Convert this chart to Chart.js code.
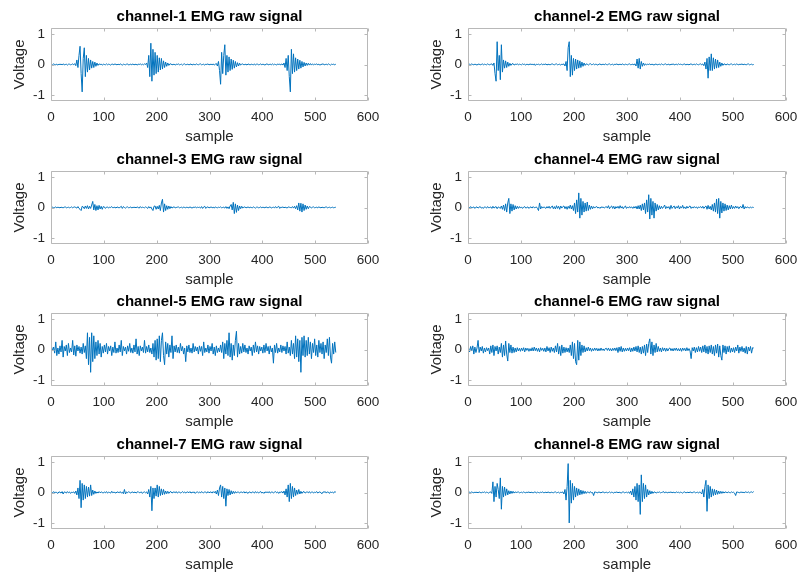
<!DOCTYPE html>
<html>
<head>
<meta charset="utf-8">
<script src="https://cdn.jsdelivr.net/npm/chart.js@4.4.1/dist/chart.umd.min.js"></script>
<style>
  html, body { margin: 0; padding: 0; background: #fff; overflow: hidden; }
  #fig { position: relative; width: 798px; height: 573px; }
  canvas { position: absolute; }
</style>
</head>
<body>
<div id="fig"></div>
<script>
// sample index of every stored value (every second sample, 1..539)
const samples = Array.from({length: 270}, (_, i) => 1 + i * 2);
const xTicks = [0, 100, 200, 300, 400, 500, 600];
const yTicks = [-1, 0, 1];
const titles = ['channel-1 EMG raw signal', 'channel-2 EMG raw signal', 'channel-3 EMG raw signal',
  'channel-4 EMG raw signal', 'channel-5 EMG raw signal', 'channel-6 EMG raw signal',
  'channel-7 EMG raw signal', 'channel-8 EMG raw signal'];

const ch1 = [
  0.01,-0.01,0.02,0.00,-0.01,0.01,-0.02,0.01,0.00,0.01,
  -0.01,0.02,-0.01,0.00,0.01,-0.02,0.01,0.01,-0.01,0.00,
  0.02,-0.01,0.03,-0.04,0.15,-0.10,0.30,0.60,-0.30,-0.90,
  0.20,0.55,-0.40,0.30,-0.25,0.20,-0.18,0.15,-0.12,0.10,
  -0.10,0.08,-0.06,0.05,-0.03,0.02,0.00,0.01,-0.02,0.01,
  0.00,-0.01,0.02,-0.01,0.01,0.00,-0.02,0.01,0.01,-0.01,
  0.02,0.00,-0.01,0.01,-0.01,0.02,0.00,-0.02,0.01,0.00,
  -0.01,0.01,0.02,-0.02,0.00,0.01,-0.01,0.02,-0.01,0.00,
  0.01,-0.02,0.01,0.00,0.02,-0.01,0.01,-0.01,0.02,0.00,
  0.05,-0.10,0.30,-0.40,0.70,-0.55,0.50,-0.35,0.40,-0.30,
  0.30,-0.25,0.22,-0.18,0.20,-0.15,0.12,-0.10,0.08,-0.06,
  0.05,-0.03,0.02,0.02,-0.01,0.00,0.01,-0.02,0.01,0.00,
  0.02,-0.01,0.00,0.01,-0.02,0.01,0.02,-0.01,0.00,0.01,
  -0.01,0.00,0.02,-0.02,0.01,0.00,-0.01,0.02,0.00,-0.01,
  0.01,0.02,-0.01,0.00,0.01,-0.02,0.01,0.00,0.02,-0.01,
  0.00,0.01,-0.01,0.02,-0.02,0.01,0.03,-0.05,0.10,-0.20,
  -0.65,0.40,-0.30,0.30,0.65,-0.35,0.30,-0.25,0.25,-0.20,
  0.18,-0.16,0.14,-0.12,0.10,-0.08,0.06,-0.05,0.04,-0.02,
  0.01,0.02,-0.01,0.00,0.01,-0.02,0.02,0.00,-0.01,0.01,
  0.00,-0.01,0.02,-0.02,0.01,0.01,-0.01,0.00,0.02,-0.01,
  0.01,0.00,-0.02,0.01,0.02,-0.01,0.00,0.01,-0.01,0.02,
  -0.01,0.01,0.00,-0.02,0.02,0.00,0.01,-0.01,0.02,-0.02,
  0.05,-0.10,0.20,-0.20,0.30,-0.40,-0.90,0.50,-0.30,0.35,
  -0.25,0.22,-0.20,0.18,-0.15,0.14,-0.12,0.10,-0.08,0.07,
  -0.05,0.05,-0.03,0.04,-0.02,0.03,-0.02,0.02,-0.01,0.01,
  0.00,0.02,-0.01,0.01,-0.02,0.00,0.01,0.02,-0.01,0.00,
  0.01,-0.01,0.02,0.00,-0.02,0.01,0.00,0.01,-0.01,0.01
];

const ch2 = [
  0.00,0.01,-0.01,0.02,0.00,-0.01,0.01,0.00,-0.02,0.01,
  0.01,-0.01,0.00,0.02,-0.01,0.01,0.00,-0.01,0.02,0.00,
  -0.01,0.01,0.02,-0.03,0.05,-0.30,-0.55,0.75,-0.20,0.30,
  -0.50,0.65,-0.25,0.15,-0.12,0.12,-0.10,0.08,-0.06,0.04,
  -0.03,0.02,0.03,-0.02,0.01,0.00,0.02,-0.01,0.01,0.00,
  -0.01,0.02,0.00,0.01,-0.02,0.01,0.00,-0.01,0.02,0.00,
  0.01,-0.01,0.02,-0.03,0.01,0.00,0.01,-0.01,0.00,0.02,
  -0.01,0.01,0.00,0.02,-0.02,0.01,0.00,-0.01,0.01,0.02,
  0.00,-0.01,0.01,0.02,-0.01,0.00,0.01,-0.02,0.01,0.00,
  0.02,-0.05,0.10,-0.20,0.55,0.75,-0.40,0.30,-0.35,0.20,
  -0.20,0.18,-0.15,0.15,-0.12,0.12,-0.10,0.08,-0.06,0.05,
  -0.03,0.02,0.01,-0.02,0.01,0.03,-0.01,0.00,0.02,-0.01,
  0.01,0.00,-0.02,0.01,0.02,-0.01,0.00,0.01,-0.01,0.02,
  0.00,-0.01,0.01,0.02,-0.01,0.00,0.01,-0.02,0.01,0.00,
  0.02,-0.01,0.00,0.01,-0.01,0.02,0.00,-0.01,0.01,0.00,
  -0.01,0.01,0.02,-0.01,0.00,0.01,-0.01,0.02,-0.05,0.18,
  -0.12,0.20,-0.15,0.10,-0.06,0.05,-0.03,0.02,-0.01,0.01,
  0.00,0.02,-0.01,0.01,0.00,-0.02,0.01,0.01,-0.01,0.00,
  0.01,-0.01,0.02,0.00,-0.01,0.01,0.02,-0.01,0.00,0.01,
  -0.02,0.01,0.00,0.02,-0.01,0.00,0.01,-0.01,0.02,0.00,
  0.01,0.00,-0.01,0.01,0.02,-0.02,0.01,0.00,-0.01,0.01,
  0.02,-0.01,0.00,0.01,-0.01,0.02,0.00,-0.01,0.01,0.02,
  -0.01,0.02,-0.04,0.08,-0.15,0.20,-0.45,0.25,-0.20,0.35,
  -0.20,0.22,-0.15,0.18,-0.12,0.15,-0.10,0.08,-0.06,0.05,
  -0.03,0.02,0.01,-0.02,0.02,0.00,-0.01,0.01,0.02,-0.01,
  0.00,0.01,-0.01,0.02,0.00,-0.01,0.01,0.00,0.02,-0.01,
  0.01,0.00,-0.01,0.01,0.02,-0.01,0.00,0.01,-0.01,0.00
];

const ch3 = [
  0.00,0.01,-0.01,0.00,0.02,-0.01,0.01,0.00,-0.01,0.01,
  0.00,-0.01,0.01,0.02,-0.01,0.00,0.01,-0.01,0.00,0.02,
  -0.01,0.01,0.02,0.00,-0.02,0.03,-0.03,-0.06,-0.10,0.04,
  0.02,-0.04,0.05,-0.03,0.06,-0.05,0.04,-0.03,0.08,0.20,
  -0.08,0.10,-0.10,0.06,-0.08,0.07,-0.05,0.04,-0.06,0.03,
  0.02,-0.03,0.01,0.02,-0.02,0.01,0.00,0.03,-0.01,0.00,
  0.01,-0.02,0.02,0.00,-0.01,0.01,0.04,-0.03,0.03,0.00,
  -0.02,0.01,0.02,-0.01,0.00,0.02,-0.02,0.01,0.00,0.01,
  -0.01,0.02,0.00,-0.02,0.03,-0.01,0.01,0.00,-0.01,0.02,
  0.00,-0.03,0.03,-0.02,0.02,-0.05,-0.10,0.04,0.05,-0.06,
  0.04,-0.05,0.07,-0.10,0.15,0.27,-0.15,0.12,-0.10,0.06,
  -0.06,0.05,-0.04,0.03,-0.02,0.01,0.02,-0.01,0.00,0.01,
  0.02,-0.01,0.00,0.01,-0.02,0.02,0.00,-0.01,0.01,0.00,
  -0.01,0.02,0.00,-0.02,0.01,0.00,0.02,-0.01,0.01,0.00,
  0.01,-0.02,0.03,-0.03,0.02,0.04,-0.03,0.01,0.02,-0.01,
  0.00,0.02,-0.01,0.01,-0.02,0.02,0.00,-0.01,0.01,0.00,
  0.02,-0.01,0.00,0.01,-0.02,0.03,-0.03,0.02,-0.04,0.05,
  0.10,-0.08,0.17,-0.20,0.12,-0.16,0.08,-0.10,0.05,-0.04,
  0.04,-0.02,0.01,0.02,-0.01,0.00,0.02,-0.01,0.01,0.00,
  -0.01,0.02,0.00,-0.02,0.01,0.01,-0.01,0.00,0.02,-0.01,
  0.01,0.00,-0.01,0.02,0.00,-0.01,0.01,0.02,-0.02,0.00,
  0.01,-0.01,0.03,-0.02,0.02,0.04,-0.03,0.01,0.00,0.02,
  -0.01,0.01,0.00,-0.02,0.02,0.01,0.00,-0.01,0.03,-0.02,
  0.04,-0.04,0.06,-0.08,0.15,-0.12,0.14,-0.15,0.12,-0.10,
  0.08,-0.06,0.05,-0.04,0.03,0.02,-0.02,0.01,0.02,-0.01,
  0.00,0.01,-0.01,0.02,0.00,-0.01,0.01,0.00,-0.01,0.01,
  0.02,-0.01,0.00,0.01,-0.01,0.00,0.01,-0.01,0.00,0.01
];

const ch4 = [
  0.02,-0.02,0.03,-0.01,0.00,0.02,-0.03,0.01,0.02,-0.02,
  0.01,0.03,-0.02,0.00,-0.03,0.02,0.01,-0.02,0.03,-0.01,
  0.00,0.02,-0.03,0.04,-0.02,0.01,0.03,-0.04,0.02,0.00,
  -0.03,0.05,-0.06,0.08,-0.10,0.12,-0.15,0.15,0.30,-0.20,
  0.12,-0.12,0.10,-0.08,0.06,-0.05,0.04,-0.03,0.03,-0.02,
  0.02,-0.03,0.01,0.03,-0.02,0.00,0.02,-0.03,0.01,0.02,
  -0.02,0.03,-0.01,0.00,0.02,-0.03,-0.10,0.15,-0.05,0.03,
  -0.02,0.02,0.00,-0.03,0.03,-0.02,0.04,-0.03,0.02,0.05,
  -0.04,0.03,-0.05,0.06,-0.03,0.04,-0.06,0.05,-0.02,0.03,
  0.05,-0.04,0.03,-0.06,0.04,-0.03,0.08,-0.05,0.06,-0.10,
  0.15,-0.20,0.25,-0.15,0.48,-0.35,0.30,-0.25,0.20,-0.15,
  0.15,-0.12,0.18,-0.10,0.08,-0.06,0.05,-0.04,0.03,-0.02,
  0.02,0.03,-0.02,0.01,-0.03,0.02,0.00,0.02,-0.02,0.01,
  0.03,-0.02,0.06,-0.04,0.02,0.05,-0.03,0.04,-0.05,0.03,
  -0.02,0.04,-0.03,0.06,-0.02,0.03,-0.04,0.02,0.05,-0.03,
  0.02,-0.02,0.03,-0.01,0.02,-0.03,0.03,-0.02,0.04,-0.05,
  0.06,-0.05,0.08,-0.10,0.12,-0.08,0.15,-0.20,0.25,-0.15,
  0.42,-0.38,0.30,-0.25,0.20,-0.35,0.15,-0.12,0.10,-0.08,
  0.06,-0.05,0.04,-0.03,0.02,0.08,-0.04,0.03,-0.02,0.03,
  -0.06,0.07,-0.03,0.02,0.05,-0.04,0.03,-0.02,0.06,-0.05,
  0.03,-0.02,0.07,-0.03,0.02,-0.04,0.04,-0.02,0.03,0.05,
  -0.03,0.02,-0.02,0.03,-0.01,0.02,-0.03,0.02,0.00,0.03,
  -0.02,0.04,-0.03,0.02,0.05,-0.06,0.07,-0.05,0.04,-0.08,
  0.10,-0.12,0.15,-0.15,0.28,-0.20,0.30,-0.35,0.20,-0.18,
  0.15,-0.12,0.12,-0.10,0.08,-0.08,0.06,-0.05,0.08,-0.04,
  0.03,-0.03,0.05,-0.02,0.03,-0.04,0.02,0.03,-0.02,0.10,
  -0.05,0.03,-0.02,0.02,0.00,-0.02,0.02,-0.01,0.01,0.00
];

const ch5 = [
  0.10,-0.05,0.08,-0.12,0.25,-0.20,0.05,-0.15,0.12,-0.08,
  0.30,-0.25,0.10,-0.05,0.15,-0.20,0.20,-0.10,0.05,-0.08,
  0.30,-0.18,0.12,-0.22,0.15,-0.05,0.10,-0.12,0.08,-0.15,
  0.20,-0.10,0.12,-0.30,0.55,-0.50,0.40,-0.75,0.55,-0.40,
  0.45,-0.30,0.25,-0.20,0.30,-0.15,0.20,-0.25,0.10,-0.12,
  0.15,-0.08,0.20,-0.15,0.10,-0.05,0.12,-0.20,0.08,-0.10,
  0.25,-0.12,0.05,-0.10,0.15,-0.08,0.30,-0.20,0.10,-0.05,
  0.08,-0.15,0.12,-0.06,0.20,-0.10,0.05,-0.12,0.15,-0.08,
  0.35,-0.15,0.10,-0.20,0.12,-0.05,0.08,-0.10,0.30,-0.12,
  0.10,-0.08,0.15,-0.10,0.05,-0.15,0.20,-0.25,0.30,-0.35,
  0.35,-0.30,0.45,-0.40,0.30,0.55,-0.20,-0.50,0.25,-0.15,
  0.20,-0.25,0.15,-0.10,0.45,-0.30,0.12,-0.08,0.15,-0.10,
  0.08,-0.12,0.20,-0.05,0.10,-0.15,0.05,-0.40,0.12,-0.08,
  0.15,-0.10,0.05,-0.12,0.20,-0.08,0.10,-0.05,0.08,-0.15,
  0.12,-0.06,0.10,-0.20,0.25,-0.10,0.05,-0.08,0.15,-0.12,
  0.10,-0.05,0.20,-0.15,0.08,-0.20,0.12,-0.10,0.05,-0.08,
  0.15,-0.10,0.25,-0.30,0.20,-0.15,0.30,-0.20,0.55,-0.25,
  0.20,-0.35,0.15,-0.20,0.30,0.60,-0.25,0.20,-0.15,0.10,
  -0.12,0.20,-0.08,0.15,-0.10,0.05,-0.15,0.12,-0.05,0.08,
  -0.20,0.15,-0.10,0.25,-0.08,0.12,-0.15,0.10,-0.05,0.08,
  -0.12,0.15,-0.10,0.20,-0.05,0.10,-0.15,0.12,-0.08,0.05,
  -0.45,0.15,-0.10,0.20,-0.12,0.05,-0.08,0.15,-0.10,0.12,
  -0.05,0.10,-0.15,0.25,-0.12,0.08,-0.20,0.30,-0.15,0.20,
  -0.30,0.45,-0.25,0.35,-0.40,0.30,-0.75,0.40,-0.20,0.45,
  -0.25,0.30,-0.20,0.40,-0.15,0.25,-0.30,0.20,-0.10,0.35,
  -0.20,0.15,-0.25,0.30,-0.10,0.20,-0.15,0.25,-0.30,0.15,
  -0.10,0.35,-0.20,0.40,-0.25,-0.45,0.20,-0.15,0.25,-0.10
];

const ch6 = [
  0.05,-0.08,0.10,-0.05,0.12,-0.15,0.08,-0.10,0.05,0.30,
  -0.10,0.08,-0.05,0.10,-0.12,0.05,-0.08,0.06,-0.04,0.05,
  -0.15,0.12,-0.10,0.15,-0.20,0.10,-0.05,0.12,-0.15,0.08,
  -0.10,0.20,-0.25,0.15,-0.20,0.28,-0.15,-0.38,0.20,-0.10,
  0.15,-0.12,0.08,-0.10,0.05,-0.08,0.06,-0.05,0.04,-0.06,
  0.05,-0.04,0.06,-0.08,0.05,-0.03,0.04,-0.06,0.03,-0.05,
  0.06,-0.05,0.08,-0.04,0.05,-0.06,0.04,-0.08,0.06,-0.03,
  0.04,-0.06,0.05,-0.08,0.10,-0.05,0.06,-0.10,0.08,-0.06,
  0.05,-0.10,0.12,-0.08,0.20,-0.15,0.10,-0.20,0.15,-0.12,
  0.08,-0.10,0.06,-0.08,0.05,-0.10,0.15,-0.20,0.25,-0.30,
  0.20,-0.40,-0.50,0.30,-0.35,0.25,-0.20,0.15,-0.10,0.12,
  -0.08,0.06,-0.05,0.08,-0.04,0.05,-0.06,0.03,-0.04,0.05,
  -0.03,0.04,-0.05,0.03,-0.04,0.05,-0.03,0.02,-0.04,0.03,
  0.04,-0.03,0.05,-0.04,0.03,-0.05,0.04,-0.03,0.05,-0.04,
  0.06,-0.10,0.08,-0.06,0.10,-0.08,0.05,-0.06,0.04,-0.05,
  0.05,-0.04,0.06,-0.08,0.05,-0.06,0.08,-0.05,0.10,-0.08,
  0.12,-0.10,0.08,-0.15,0.10,-0.12,0.15,-0.20,0.18,-0.10,
  0.20,0.35,-0.15,0.25,-0.20,0.15,-0.10,0.20,-0.08,0.10,
  -0.06,0.05,-0.08,0.06,-0.04,0.05,-0.06,0.04,-0.05,0.03,
  0.05,-0.04,0.03,-0.05,0.04,-0.03,0.05,-0.04,0.03,-0.05,
  0.04,-0.06,0.05,-0.03,0.04,-0.05,0.06,-0.04,0.03,-0.05,
  -0.30,0.06,-0.05,0.08,-0.10,0.06,-0.08,0.10,-0.06,0.08,
  -0.10,0.12,-0.08,0.15,-0.12,0.10,-0.15,0.12,-0.10,0.15,
  -0.15,0.10,-0.20,0.15,-0.12,0.18,-0.25,0.12,-0.20,-0.35,
  0.15,-0.10,0.12,-0.15,0.10,-0.08,0.12,-0.10,0.05,-0.08,
  0.06,-0.10,0.08,-0.05,0.15,-0.12,0.08,-0.06,0.10,-0.08,
  0.05,-0.12,0.10,-0.15,0.08,-0.05,0.10,-0.12,0.06,0.05
];

const ch7 = [
  0.02,-0.01,0.03,-0.02,0.01,0.00,-0.03,0.02,0.01,-0.02,
  0.03,-0.05,0.02,0.01,-0.02,0.03,-0.01,0.02,-0.03,0.01,
  0.00,0.02,-0.03,0.05,-0.08,0.15,-0.20,0.40,-0.50,0.30,
  -0.25,0.25,-0.20,0.20,-0.15,0.18,-0.12,0.25,-0.10,0.08,
  -0.06,0.05,-0.03,0.02,-0.02,0.03,-0.01,0.02,0.00,-0.02,
  0.02,-0.01,0.03,-0.02,0.01,0.00,-0.02,0.04,-0.01,0.01,
  0.00,-0.02,0.02,0.01,-0.01,0.03,-0.02,0.01,-0.04,0.10,
  -0.05,0.02,-0.01,0.03,0.00,-0.02,0.02,0.01,-0.01,0.02,
  -0.02,0.01,0.03,-0.01,0.00,0.02,-0.03,0.01,0.02,-0.01,
  0.02,-0.05,0.10,-0.15,0.20,-0.60,0.15,-0.20,0.15,-0.12,
  0.25,-0.15,0.20,-0.10,0.12,-0.08,0.10,-0.06,0.05,-0.04,
  0.04,-0.03,0.02,0.03,-0.02,0.01,0.02,-0.01,0.03,-0.02,
  0.01,0.02,-0.02,0.00,0.03,-0.01,0.02,-0.02,0.01,0.02,
  -0.01,0.03,-0.02,0.01,0.00,0.02,-0.03,0.01,0.02,-0.01,
  0.02,-0.02,0.03,0.00,-0.01,0.02,0.01,-0.02,0.03,-0.01,
  0.01,0.02,-0.02,0.03,-0.01,0.04,-0.05,0.08,-0.10,0.15,
  0.25,-0.15,0.20,-0.20,0.15,-0.45,0.12,-0.10,0.10,-0.08,
  0.06,-0.05,0.04,-0.03,0.03,-0.02,0.02,0.01,-0.02,0.02,
  0.01,-0.01,0.03,-0.02,0.02,0.00,-0.03,0.02,0.01,-0.02,
  0.02,0.01,-0.02,0.03,-0.01,0.02,-0.02,0.01,0.03,-0.02,
  0.01,-0.03,0.02,0.00,0.02,-0.01,0.03,-0.02,0.01,0.02,
  -0.02,0.01,0.03,-0.01,0.02,-0.03,0.02,0.00,0.03,-0.02,
  0.05,-0.08,0.12,-0.15,0.25,-0.30,0.30,-0.20,0.20,-0.15,
  0.15,-0.10,0.08,-0.06,0.10,-0.05,0.04,-0.03,0.02,0.03,
  -0.02,0.01,0.02,-0.01,0.03,-0.02,0.01,0.02,-0.02,0.01,
  0.00,0.03,-0.02,0.01,0.02,-0.01,-0.04,0.02,0.01,0.03,
  -0.02,0.02,0.01,-0.03,0.02,0.00,0.01,-0.02,0.03,0.01
];

const ch8 = [
  0.00,0.01,-0.01,0.02,0.00,-0.01,0.01,0.00,0.01,-0.01,
  0.02,0.00,-0.01,0.01,0.00,0.02,-0.01,0.01,0.00,-0.02,
  0.01,0.02,-0.03,0.35,-0.30,0.20,-0.15,0.30,0.10,-0.20,
  0.48,-0.55,0.20,-0.15,0.18,-0.10,0.12,-0.08,0.06,-0.05,
  0.05,-0.03,0.04,-0.02,0.02,0.00,0.01,0.02,-0.01,0.00,
  0.01,-0.01,0.02,0.00,-0.01,0.01,0.00,0.02,-0.01,0.01,
  0.00,-0.01,0.01,0.02,-0.02,0.01,0.00,-0.01,0.01,0.00,
  0.02,-0.01,0.00,0.01,-0.01,0.02,0.00,-0.01,0.01,0.00,
  -0.01,0.01,0.02,-0.01,0.00,0.01,-0.02,0.01,0.00,0.02,
  -0.05,0.10,-0.25,0.20,0.95,-1.00,0.40,-0.35,0.30,-0.25,
  0.20,-0.15,0.15,-0.10,0.12,-0.08,0.08,-0.06,0.06,-0.04,
  0.04,-0.03,0.02,0.01,-0.02,0.03,-0.01,0.00,-0.10,0.02,
  0.01,0.00,-0.01,0.02,0.00,-0.01,0.01,0.02,-0.01,0.00,
  0.01,-0.01,0.00,0.02,-0.01,0.01,0.00,-0.02,0.01,0.00,
  0.02,-0.01,0.01,0.00,-0.02,0.01,0.02,-0.01,0.00,0.01,
  -0.01,0.02,-0.03,0.05,-0.08,0.12,-0.15,0.20,-0.25,0.30,
  -0.30,0.25,-0.72,0.58,-0.30,0.30,-0.20,0.25,-0.15,0.10,
  -0.08,0.06,-0.05,0.04,-0.03,0.02,0.01,-0.02,0.01,0.00,
  0.02,-0.01,0.00,0.01,0.03,-0.02,0.02,0.00,-0.01,0.01,
  0.00,0.02,-0.01,0.01,0.00,-0.01,0.02,0.00,0.01,-0.01,
  0.01,0.00,-0.02,0.01,0.02,-0.01,0.00,0.01,-0.01,0.02,
  0.00,-0.01,0.01,0.02,-0.01,0.00,0.01,-0.02,0.02,0.00,
  -0.05,0.10,-0.15,0.20,0.40,-0.62,0.25,-0.20,0.20,-0.15,
  0.12,-0.10,0.10,-0.08,0.08,-0.06,0.05,-0.04,0.04,-0.03,
  0.03,-0.02,0.02,0.01,-0.01,0.02,0.00,-0.01,0.02,0.00,
  0.01,-0.02,-0.10,0.02,0.01,0.00,-0.01,0.02,0.00,0.01,
  -0.01,0.02,0.01,0.00,0.02,-0.01,0.01,0.02,0.00,0.03
];

const channels = [ch1, ch2, ch3, ch4, ch5, ch6, ch7, ch8];

// panel geometry (plot box in page pixels)
const colLeft = [51, 468];
const colWidth = [317, 318];
const rowTop = [28, 171, 313, 456];
const plotH = 73;
const yAxisW = 51;
const titleH = 19;
const xAxisH = 45;
const padRight = 12;

const FONT = '"Liberation Sans", Arial, Helvetica, sans-serif';
const textColor = '#262626';
const boxColor = '#b8b8b8';

// MATLAB-like box with inward ticks on all four sides
const boxPlugin = {
  id: 'matlabBox',
  afterDatasetsDraw(chart) {
    const {ctx, chartArea: a, scales: {x, y}} = chart;
    const L = Math.round(a.left) + 0.5, R = Math.round(a.right) - 0.5;
    const T = Math.round(a.top) + 0.5, B = Math.round(a.bottom) - 0.5;
    const tl = 3;
    ctx.save();
    ctx.strokeStyle = boxColor;
    ctx.lineWidth = 1;
    ctx.beginPath();
    ctx.rect(L, T, R - L, B - T);
    x.ticks.forEach(t => {
      const px = Math.round(x.getPixelForValue(t.value)) + 0.5;
      ctx.moveTo(px, B); ctx.lineTo(px, B - tl);
      ctx.moveTo(px, T); ctx.lineTo(px, T + tl);
    });
    y.ticks.forEach(t => {
      const py = Math.round(y.getPixelForValue(t.value)) + 0.5;
      ctx.moveTo(L, py); ctx.lineTo(L + tl, py);
      ctx.moveTo(R, py); ctx.lineTo(R - tl, py);
    });
    ctx.stroke();
    ctx.restore();
  }
};

const fig = document.getElementById('fig');

channels.forEach((vals, k) => {
  const col = k % 2, row = Math.floor(k / 2);
  const canvas = document.createElement('canvas');
  canvas.width = yAxisW + colWidth[col] + padRight;
  canvas.height = titleH + plotH + xAxisH;
  canvas.style.left = (colLeft[col] - yAxisW) + 'px';
  canvas.style.top = (rowTop[row] - titleH) + 'px';
  fig.appendChild(canvas);

  new Chart(canvas.getContext('2d'), {
    type: 'line',
    data: {
      datasets: [{
        data: vals.map((v, i) => ({x: samples[i], y: v})),
        borderColor: '#0072BD',
        borderWidth: 1,
        pointRadius: 0,
        tension: 0,
        fill: false
      }]
    },
    options: {
      responsive: false,
      animation: false,
      events: [],
      layout: { padding: { left: 0, top: 0, bottom: 0, right: padRight } },
      plugins: {
        legend: { display: false },
        tooltip: { enabled: false },
        title: {
          display: true,
          text: titles[k],
          fullSize: false,
          color: '#000',
          font: { family: FONT, size: 15, weight: 'bold', lineHeight: 1 },
          padding: { top: 0, bottom: 4 }
        }
      },
      scales: {
        x: {
          type: 'linear',
          min: 0, max: 600,
          afterBuildTicks: s => { s.ticks = xTicks.map(v => ({value: v})); },
          afterFit: s => { s.height = xAxisH; s.paddingLeft = 0; s.paddingRight = 0; },
          grid: { display: false, drawTicks: false },
          border: { display: false },
          ticks: { color: textColor, padding: 8, maxRotation: 0, font: { family: FONT, size: 13.5 } },
          title: {
            display: true, text: 'sample', color: textColor,
            font: { family: FONT, size: 15, lineHeight: 1.2 },
            padding: { top: 0, bottom: 0 }
          }
        },
        y: {
          type: 'linear',
          min: -1.2, max: 1.2,
          afterBuildTicks: s => { s.ticks = yTicks.map(v => ({value: v})); },
          afterFit: s => { s.width = yAxisW; },
          grid: { display: false, drawTicks: false },
          border: { display: false },
          ticks: { color: textColor, padding: 6, font: { family: FONT, size: 13.5 } },
          title: {
            display: true, text: 'Voltage', color: textColor,
            font: { family: FONT, size: 15, lineHeight: 1.2 },
            padding: { top: 11, bottom: 0 }
          }
        }
      }
    },
    plugins: [boxPlugin]
  });
});
</script>
</body>
</html>
